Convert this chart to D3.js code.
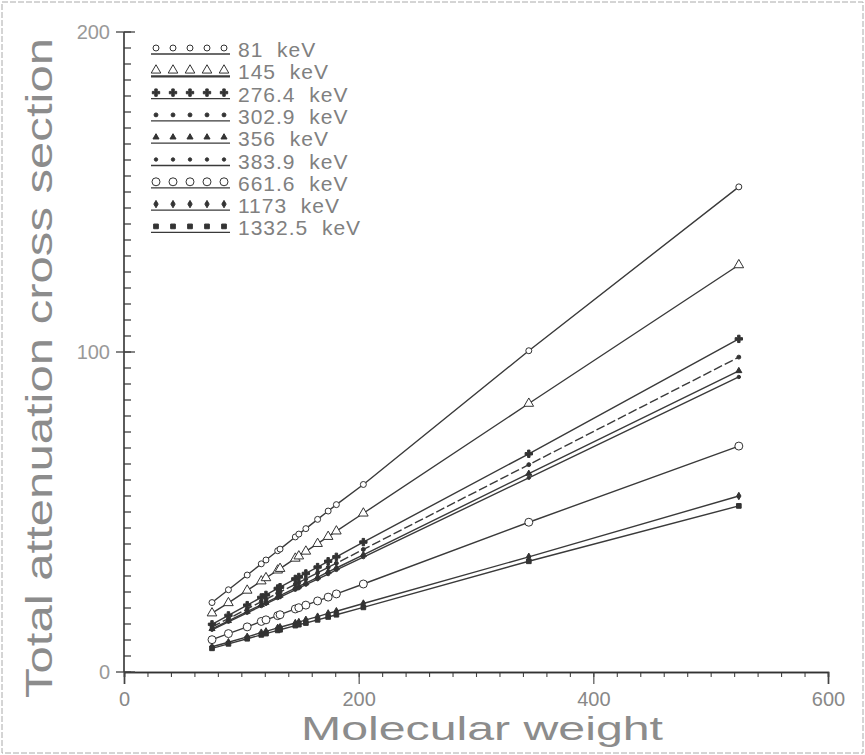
<!DOCTYPE html>
<html>
<head>
<meta charset="utf-8">
<script src="https://cdn.jsdelivr.net/npm/d3@7"></script>
<style>
  body{margin:0;background:#fff;}
  svg{display:block;}
  text{font-family:"Liberation Sans",Arial,sans-serif;fill:#6a6a6a;}
</style>
</head>
<body>
<div id="chart"></div>
<script>
// molecular weights of the compounds
var molWeight=[75,89,105,117,121,131,133,146,149,155,165,174,181,204,345,524];

// total attenuation cross section, one array per photon energy
var sigma81  =[21.7,25.7,30.3,33.8,35.0,37.9,38.4,42.2,43.1,44.8,47.7,50.3,52.3,58.6,100.4,151.6];
var sigma145 =[18.4,21.6,25.5,28.4,29.4,31.8,32.3,35.5,36.2,37.7,40.1,42.3,44.0,49.6,83.9,127.2];
var sigma276 =[14.9,17.7,20.9,23.3,24.1,26.1,26.5,29.1,29.7,30.8,32.8,34.6,36.0,40.6,68.2,104.1];
var sigma303 =[14.1,16.7,19.7,22.0,22.7,24.6,25.0,27.4,28.0,29.1,31.0,32.7,34.0,38.3,64.8,98.4];
var sigma356 =[13.5,16.0,18.9,21.0,21.7,23.5,23.9,26.2,26.8,27.8,29.6,31.3,32.5,36.6,62.0,94.1];
var sigma384 =[13.2,15.7,18.5,20.6,21.3,23.1,23.4,25.7,26.2,27.3,29.0,30.6,31.9,35.9,60.7,92.2];
var sigma662 =[10.1,12.0,14.1,15.8,16.3,17.6,17.9,19.7,20.1,20.9,22.2,23.4,24.4,27.5,46.8,70.6];
var sigma1173=[7.9,9.3,11.0,12.3,12.7,13.8,14.0,15.3,15.6,16.3,17.3,18.3,19.0,21.4,36.0,55.0];
var sigma1332=[7.4,8.8,10.4,11.6,12.0,13.0,13.2,14.5,14.8,15.3,16.3,17.2,17.9,20.2,34.6,51.9];

var energyLabels=['81  keV','145  keV','276.4  keV','302.9  keV','356  keV','383.9  keV','661.6  keV','1173  keV','1332.5  keV'];
var xTicks=[0,200,400,600];
var yTicks=[0,100,200];

var allSigma=[sigma81,sigma145,sigma276,sigma303,sigma356,sigma384,sigma662,sigma1173,sigma1332];

// marker style per series
var markers=[
    {type:d3.symbolCircle,size:28,fill:'#fff'},
    {type:d3.symbolTriangle,size:40,fill:'#fff'},
    {type:d3.symbolCross,size:30,fill:'#333'},
    {type:d3.symbolCircle,size:12,fill:'#333'},
    {type:d3.symbolTriangle,size:16,fill:'#333'},
    {type:d3.symbolCircle,size:9,fill:'#333'},
    {type:d3.symbolCircle,size:50,fill:'#fff'},
    {type:d3.symbolDiamond,size:16,fill:'#333'},
    {type:d3.symbolSquare,size:22,fill:'#333'}
];
var dashes=[null,null,null,'9,3',null,null,null,null,null];

var width=865,height=755;
var mLeft=124,mRight=828,mTop=32,mBottom=672;

var svg=d3.select('#chart').append('svg')
    .attr('width',width)
    .attr('height',height);

// outer frame
svg.append('rect')
    .attr('x',2).attr('y',2)
    .attr('width',width-4).attr('height',height-4)
    .style('fill','none')
    .style('stroke','#aaa')
    .style('stroke-width',1)
    .style('stroke-dasharray','6,2');

var xScale=d3.scaleLinear().domain([0,600]).range([mLeft,mRight]);
var yScale=d3.scaleLinear().domain([0,200]).range([mBottom,mTop]);

// x axis: minor ticks every 20, major every 200
var xAxisMinor=d3.axisBottom(xScale).tickValues(d3.range(0,601,20)).tickSize(5).tickFormat('');
var xAxisMajor=d3.axisBottom(xScale).tickValues(xTicks).tickSize(12).tickPadding(8).tickFormat(d3.format('d'));
var gx=svg.append('g').attr('transform','translate(0,'+mBottom+')');
gx.call(xAxisMinor);
gx.append('g').call(xAxisMajor);
gx.selectAll('.domain').style('stroke','#333').style('stroke-width',1.6);
gx.selectAll('line').style('stroke','#444').style('stroke-width',1.1);
gx.selectAll('text').style('font-size','20px').style('fill','#888');

// y axis: minor ticks every 5, pointing into the plot
var gy=svg.append('g').attr('transform','translate('+mLeft+',0)');
gy.append('line')
    .attr('x1',0).attr('x2',0)
    .attr('y1',yScale(0)).attr('y2',yScale(200))
    .style('stroke','#333').style('stroke-width',1.6);
gy.selectAll('line.minor').data(d3.range(0,201,5)).enter().append('line')
    .attr('class','minor')
    .attr('x1',0).attr('x2',7)
    .attr('y1',function(d){return yScale(d);})
    .attr('y2',function(d){return yScale(d);})
    .style('stroke','#333').style('stroke-width',1.2);
gy.selectAll('line.major').data(yTicks).enter().append('line')
    .attr('class','major')
    .attr('x1',-8).attr('x2',11)
    .attr('y1',function(d){return yScale(d);})
    .attr('y2',function(d){return yScale(d);})
    .style('stroke','#444').style('stroke-width',1.3);
gy.selectAll('text.ylab').data(yTicks).enter().append('text')
    .attr('class','ylab')
    .attr('x',-14)
    .attr('y',function(d){return yScale(d)+7;})
    .attr('text-anchor','end')
    .style('font-size','20px')
    .style('fill','#999')
    .text(function(d){return d;});

// axis titles
svg.append('text')
    .attr('transform','translate(52,'+((mTop+mBottom)/2+16)+') rotate(-90)')
    .attr('text-anchor','middle')
    .attr('textLength',660)
    .attr('lengthAdjust','spacingAndGlyphs')
    .style('font-size','36px')
    .style('fill','#8c8c8c')
    .text('Total attenuation cross section');

svg.append('text')
    .attr('x',482).attr('y',740)
    .attr('text-anchor','middle')
    .attr('textLength',362)
    .attr('lengthAdjust','spacingAndGlyphs')
    .style('font-size','34px')
    .style('fill','#8c8c8c')
    .text('Molecular weight');

// series lines and points
var line=d3.line()
    .x(function(d){return xScale(d[0]);})
    .y(function(d){return yScale(d[1]);});

var series=allSigma.map(function(vals,i){
    return {pts:molWeight.map(function(m,j){return [m,vals[j]];}),mk:markers[i],dash:dashes[i]};
});

var gs=svg.selectAll('.series').data(series).enter().append('g');
gs.append('path')
    .attr('d',function(d){return line(d.pts);})
    .style('fill','none')
    .style('stroke','#3a3a3a')
    .style('stroke-width',1.4)
    .style('stroke-dasharray',function(d){return d.dash;});
gs.each(function(s){
    d3.select(this).selectAll('path.pt').data(s.pts).enter().append('path')
        .attr('class','pt')
        .attr('transform',function(d){return 'translate('+xScale(d[0])+','+yScale(d[1])+')';})
        .attr('d',d3.symbol().type(s.mk.type).size(s.mk.size))
        .style('fill',s.mk.fill)
        .style('stroke','#333')
        .style('stroke-width',1);
});

// legend
var legY0=49,legStep=22.3;
var leg=svg.selectAll('.leg').data(energyLabels).enter().append('g')
    .attr('transform',function(d,i){return 'translate(0,'+(legY0+i*legStep)+')';});
leg.append('line')
    .attr('x1',151).attr('x2',230)
    .attr('y1',5).attr('y2',5)
    .style('stroke','#3a3a3a')
    .style('stroke-width',function(d,i){return i==1?2.2:1.3;});
leg.each(function(d,i){
    var g=d3.select(this);
    for(var k=0;k<5;k++){
        g.append('path')
            .attr('transform','translate('+(156+k*17)+',-1)')
            .attr('d',d3.symbol().type(markers[i].type).size(markers[i].size))
            .style('fill',markers[i].fill)
            .style('stroke','#333')
            .style('stroke-width',1);
    }
});
leg.append('text')
    .attr('x',238).attr('y',8)
    .style('font-size','21px')
    .style('letter-spacing','1px')
    .style('fill','#808080')
    .style('white-space','pre')
    .text(function(d){return d;});
</script>
</body>
</html>
